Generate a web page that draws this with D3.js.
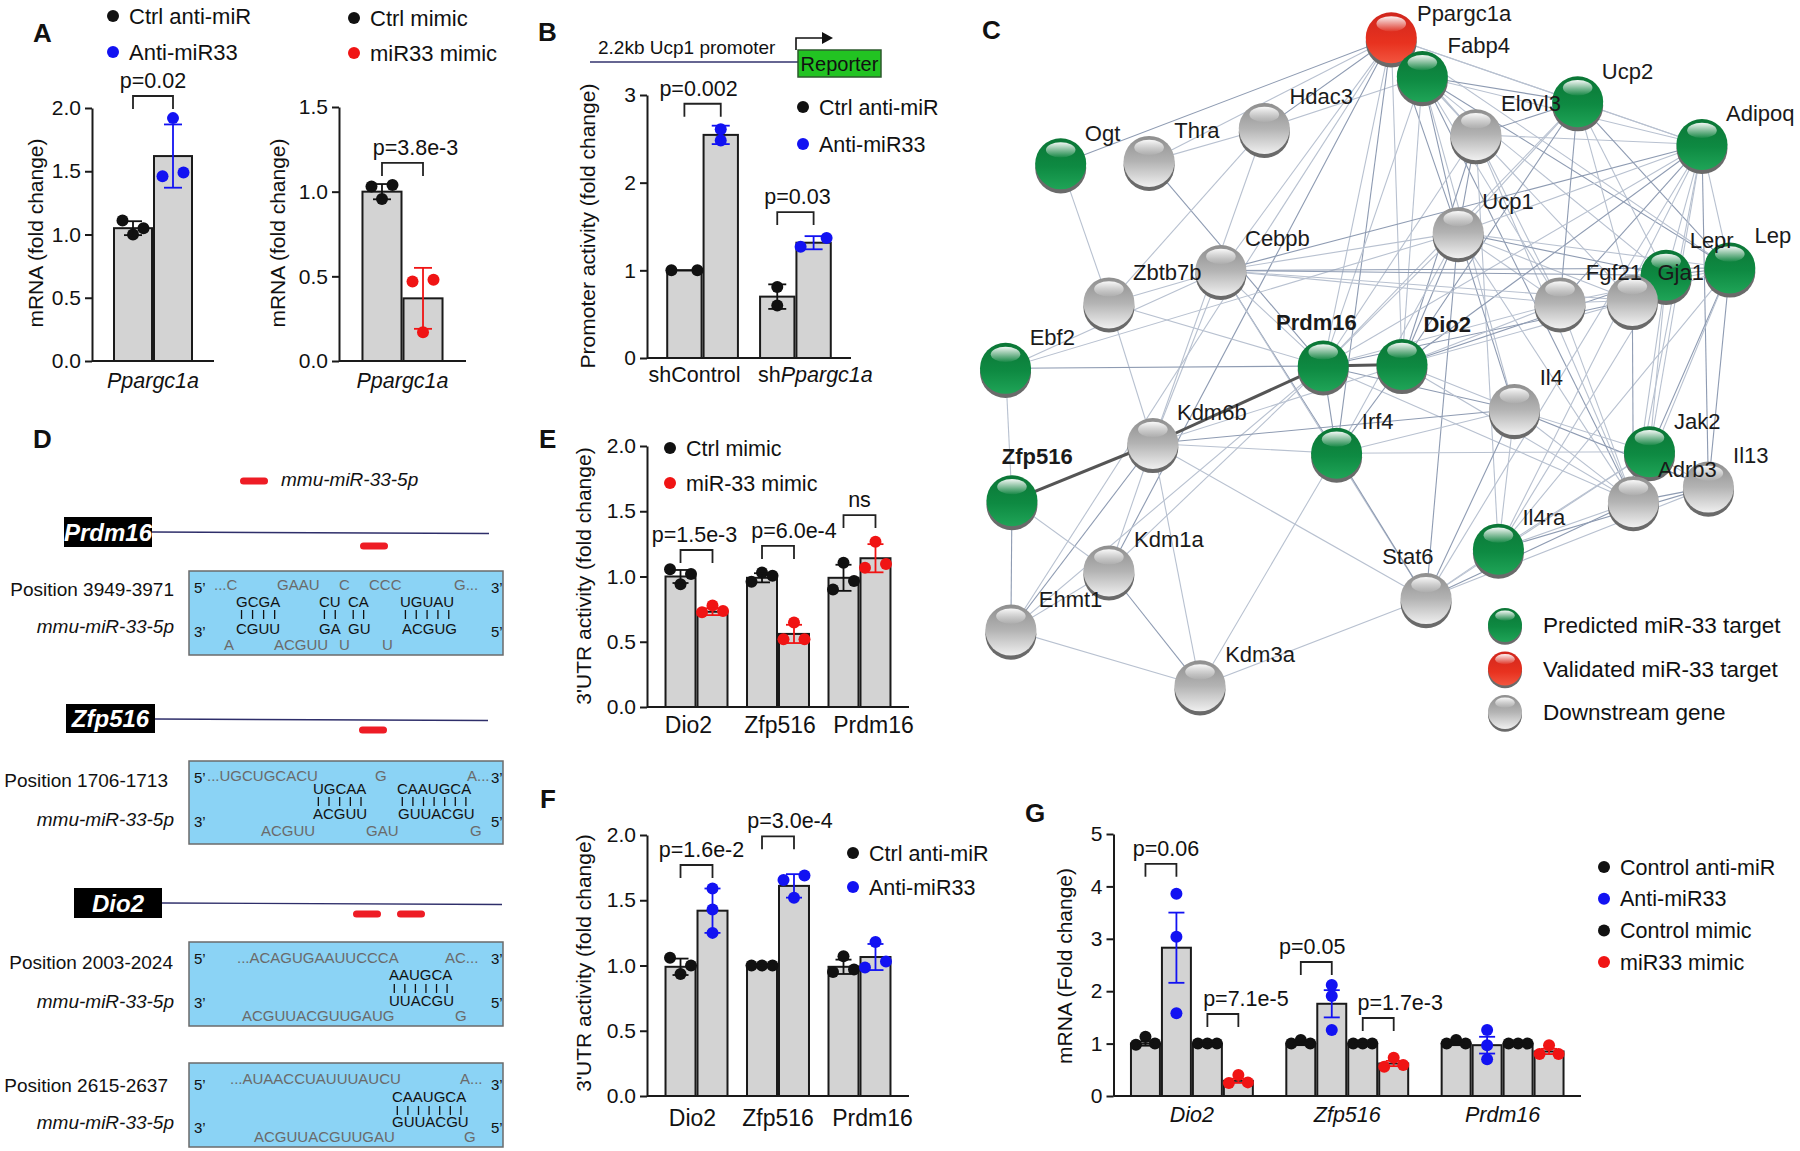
<!DOCTYPE html>
<html><head><meta charset="utf-8">
<script src="https://cdn.jsdelivr.net/npm/d3@7"></script>
<style>body{margin:0;background:#fff}svg{display:block}text{font-family:"Liberation Sans",Arial,Helvetica,sans-serif}</style>
</head><body><svg id="c" width="1800" height="1151"></svg>
<script>
// ================= DATA =================
// Panel A (left): Ctrl anti-miR vs Anti-miR33
const A1_groups=["Ppargc1a"];
const A1_series=["Ctrl anti-miR","Anti-miR33"];
const A1_means=[[1.05],[1.62]];
const A1_errs=[[0.055],[0.25]];
const A1_points=[[[1.11,1.00,1.05]],[[1.46,1.92,1.49]]];
const A1_ticks=[0,0.5,1.0,1.5,2.0];
const A1_pvals=[{label:"p=0.02",group:0,from:0,to:1,level:2.095,dx:0}];
// Panel A (right): Ctrl mimic vs miR33 mimic
const A2_groups=["Ppargc1a"];
const A2_series=["Ctrl mimic","miR33 mimic"];
const A2_means=[[1.0],[0.37]];
const A2_errs=[[0.045],[0.18]];
const A2_points=[[[1.03,0.957,1.04]],[[0.47,0.17,0.48]]];
const A2_ticks=[0,0.5,1.0,1.5];
const A2_pvals=[{label:"p=3.8e-3",group:0,from:0,to:1,level:1.17,dx:13}];
// Panel B
const B_groups=["shControl","shPpargc1a"];
const B_series=["Ctrl anti-miR","Anti-miR33"];
const B_means=[[1.0,0.70],[2.545,1.315]];
const B_errs=[[0,0.14],[0.105,0.075]];
const B_points=[[[1.0,1.0],[0.81,0.60]],[[2.61,2.48],[1.27,1.37]]];
const B_ticks=[0,1,2,3];
const B_pvals=[{label:"p=0.002",group:0,from:0,to:1,level:2.90,dx:-4},{label:"p=0.03",group:1,from:0,to:1,level:1.665,dx:2}];
// Panel E
const E_groups=["Dio2","Zfp516","Prdm16"];
const E_series=["Ctrl mimic","miR-33 mimic"];
const E_means=[[1.0,0.99,0.99],[0.73,0.56,1.14]];
const E_errs=[[0.05,0.035,0.1],[0.026,0.07,0.108]];
const E_points=[[[1.055,0.94,1.02],[0.96,1.03,1.006],[0.90,1.106,0.966]],[[0.726,0.777,0.736],[0.52,0.647,0.52],[1.067,1.266,1.095]]];
const E_ticks=[0,0.5,1.0,1.5,2.0];
const E_pvals=[{label:"p=1.5e-3",group:0,from:0,to:1,level:1.203,dx:-2},{label:"p=6.0e-4",group:1,from:0,to:1,level:1.234,dx:16},{label:"ns",group:2,from:0,to:1,level:1.471,dx:0}];
// Panel F
const F_groups=["Dio2","Zfp516","Prdm16"];
const F_series=["Ctrl anti-miR","Anti-miR33"];
const F_means=[[0.99,1.0,0.99],[1.42,1.61,1.065]];
const F_errs=[[0.063,0,0.055],[0.17,0.09,0.1]];
const F_points=[[[1.06,0.935,1.0],[1.0,1.0,1.0],[0.95,1.07,0.97]],[[1.59,1.43,1.25],[1.655,1.52,1.69],[0.985,1.18,1.03]]];
const F_ticks=[0,0.5,1.0,1.5,2.0];
const F_pvals=[{label:"p=1.6e-2",group:0,from:0,to:1,level:1.77,dx:5},{label:"p=3.0e-4",group:1,from:0,to:1,level:1.99,dx:12}];
// Panel G
const G_groups=["Dio2","Zfp516","Prdm16"];
const G_series=["Control anti-miR","Anti-miR33","Control mimic","miR33 mimic"];
const G_means=[[1.0,1.0,1.0],[2.83,1.76,0.97],[1.0,1.0,1.0],[0.29,0.62,0.85]];
const G_errs=[[0.04,0.03,0.03],[0.67,0.26,0.16],[0,0,0],[0.04,0.05,0.05]];
const G_points=[
  [[0.98,1.13,1.0],[1.0,1.07,1.0],[1.0,1.07,1.0]],
  [[3.86,3.04,1.58],[2.12,1.91,1.26],[1.26,0.97,0.70]],
  [[1.0,1.0,1.0],[1.0,1.0,1.0],[1.0,1.0,1.0]],
  [[0.25,0.40,0.26],[0.56,0.73,0.59],[0.80,0.97,0.80]]];
const G_ticks=[0,1,2,3,4,5];
const G_pvals=[{label:"p=0.06",group:0,from:0,to:1,level:4.43,dx:5},{label:"p=7.1e-5",group:0,from:2,to:3,level:1.565,dx:23},
  {label:"p=0.05",group:1,from:0,to:1,level:2.557,dx:-4},{label:"p=1.7e-3",group:1,from:2,to:3,level:1.489,dx:22}];
// Panel C network
const C_nodes=[
 ["Ppargc1a","validated"],["Fabp4","predicted"],["Ucp2","predicted"],["Elovl3","downstream"],["Hdac3","downstream"],
 ["Adipoq","predicted"],["Thra","downstream"],["Ogt","predicted"],["Ucp1","downstream"],["Cebpb","downstream"],
 ["Zbtb7b","downstream"],["Fgf21","downstream"],["Lepr","predicted"],["Gja1","downstream"],["Lep","predicted"],
 ["Ebf2","predicted"],["Prdm16","predicted"],["Dio2","predicted"],["Il4","downstream"],["Kdm6b","downstream"],
 ["Irf4","predicted"],["Zfp516","predicted"],["Jak2","predicted"],["Adrb3","downstream"],["Il13","downstream"],
 ["Il4ra","predicted"],["Kdm1a","downstream"],["Stat6","downstream"],["Ehmt1","downstream"],["Kdm3a","downstream"]];
const C_bold=["Prdm16","Dio2","Zfp516"];
const C_edges=[
 ["Ogt","Ppargc1a"],["Thra","Ppargc1a"],["Thra","Hdac3"],["Hdac3","Ppargc1a"],["Hdac3","Fabp4"],["Ogt","Zbtb7b"],["Thra","Prdm16"],["Hdac3","Zbtb7b"],["Hdac3","Kdm6b"],
 ["Ppargc1a","Fabp4"],["Ppargc1a","Ucp2"],["Ppargc1a","Elovl3"],["Ppargc1a","Ucp1"],["Ppargc1a","Prdm16"],["Ppargc1a","Dio2"],["Ppargc1a","Irf4"],["Ppargc1a","Adipoq"],["Ppargc1a","Lep"],["Ppargc1a","Kdm1a"],["Ppargc1a","Ehmt1"],["Ppargc1a","Cebpb"],
 ["Fabp4","Ucp2"],["Fabp4","Adipoq"],["Fabp4","Elovl3"],["Fabp4","Ucp1"],["Fabp4","Prdm16"],["Fabp4","Dio2"],["Fabp4","Lep"],["Fabp4","Gja1"],["Fabp4","Fgf21"],["Fabp4","Adrb3"],["Fabp4","Lepr"],["Fabp4","Il4"],
 ["Elovl3","Ucp1"],["Elovl3","Fgf21"],["Elovl3","Adrb3"],["Elovl3","Ucp2"],["Elovl3","Adipoq"],["Elovl3","Prdm16"],["Elovl3","Dio2"],["Elovl3","Il4ra"],
 ["Ucp2","Adipoq"],["Ucp2","Lep"],["Ucp2","Ucp1"],["Ucp2","Gja1"],["Ucp2","Fgf21"],["Ucp2","Prdm16"],["Ucp2","Lepr"],["Ucp2","Dio2"],
 ["Adipoq","Lep"],["Adipoq","Lepr"],["Adipoq","Fgf21"],["Adipoq","Ucp1"],["Adipoq","Jak2"],["Adipoq","Il13"],["Adipoq","Adrb3"],["Adipoq","Prdm16"],["Adipoq","Dio2"],["Adipoq","Il4ra"],["Adipoq","Stat6"],["Adipoq","Cebpb"],
 ["Ucp1","Cebpb"],["Ucp1","Prdm16"],["Ucp1","Dio2"],["Ucp1","Fgf21"],["Ucp1","Gja1"],["Ucp1","Lepr"],["Ucp1","Lep"],["Ucp1","Adrb3"],["Ucp1","Stat6"],["Ucp1","Irf4"],["Ucp1","Ebf2"],["Ucp1","Il4"],
 ["Cebpb","Zbtb7b"],["Cebpb","Prdm16"],["Cebpb","Irf4"],["Cebpb","Fgf21"],["Cebpb","Gja1"],["Cebpb","Lep"],["Cebpb","Kdm6b"],["Cebpb","Stat6"],["Cebpb","Lepr"],
 ["Zbtb7b","Prdm16"],["Zbtb7b","Kdm6b"],["Ebf2","Prdm16"],["Ebf2","Zfp516"],["Ebf2","Cebpb"],
 ["Prdm16","Irf4"],["Prdm16","Kdm1a"],["Prdm16","Ehmt1"],["Prdm16","Il4"],["Prdm16","Fgf21"],["Prdm16","Adrb3"],["Prdm16","Gja1"],
 ["Dio2","Fgf21"],["Dio2","Gja1"],["Dio2","Irf4"],["Dio2","Il4"],["Dio2","Adrb3"],["Dio2","Lepr"],["Dio2","Kdm6b"],
 ["Kdm6b","Irf4"],["Kdm6b","Il4"],["Kdm6b","Stat6"],["Kdm6b","Kdm1a"],["Kdm6b","Ehmt1"],["Kdm6b","Kdm3a"],
 ["Irf4","Il4"],["Irf4","Stat6"],["Irf4","Kdm3a"],["Irf4","Jak2"],["Zfp516","Ehmt1"],["Zfp516","Kdm1a"],
 ["Il4","Il4ra"],["Il4","Stat6"],["Il4","Jak2"],["Il4","Adrb3"],["Il4","Il13"],
 ["Jak2","Stat6"],["Jak2","Il4ra"],["Jak2","Lep"],["Jak2","Lepr"],["Jak2","Il13"],["Jak2","Adrb3"],
 ["Il4ra","Stat6"],["Il4ra","Adrb3"],["Il4ra","Il13"],["Il4ra","Lep"],["Il4ra","Lepr"],
 ["Stat6","Adrb3"],["Stat6","Kdm3a"],["Stat6","Il13"],["Kdm1a","Kdm3a"],["Kdm1a","Ehmt1"],["Ehmt1","Kdm3a"],
 ["Lep","Lepr"],["Lep","Gja1"],["Lepr","Gja1"],["Lep","Il13"],["Lep","Adrb3"],["Lepr","Adrb3"],["Gja1","Adrb3"],["Fgf21","Adrb3"],["Fgf21","Gja1"],["Adrb3","Il13"],["Fgf21","Lep"]];
const C_strong=[["Zfp516","Kdm6b"],["Kdm6b","Prdm16"],["Prdm16","Dio2"]];
const C_legend=[["predicted","Predicted miR-33 target"],["validated","Validated miR-33 target"],["downstream","Downstream gene"]];

// ================= LAYOUT =================
const FONT='"Liberation Sans",Arial,Helvetica,sans-serif';
const BLACK="#111", BLUE="#1212f2", RED="#f01414";
const svg=d3.select("#c");
svg.append("rect").attr("width",1800).attr("height",1151).attr("fill","#fff");

function txt(g,x,y,s,o={}){
  const t=g.append("text").attr("x",x).attr("y",y).text(s)
    .attr("font-size",o.size||21).attr("fill",o.fill||"#111").attr("font-family",FONT);
  if(o.anchor) t.attr("text-anchor",o.anchor);
  if(o.weight) t.attr("font-weight",o.weight);
  if(o.italic) t.attr("font-style","italic");
  return t;
}
function legend(items,x,y0,dy,size){
  items.forEach((it,i)=>{
    svg.append("circle").attr("cx",x).attr("cy",y0+i*dy).attr("r",6).attr("fill",it[1]);
    txt(svg,x+16,y0+i*dy+7.5,it[0],{size:size||21.5});
  });
}

function barChart(o){
  const g=svg.append("g");
  const y=d3.scaleLinear().domain([o.ticks[0],o.ticks[o.ticks.length-1]]).range([o.yBottom,o.yTop]);
  const x0=d3.scaleBand().domain(o.groups).range([o.axisX,o.xEnd]).paddingInner(o.pi).paddingOuter(o.po);
  const x1=d3.scaleBand().domain(d3.range(o.series.length)).range([0,x0.bandwidth()]);
  const cx=(gi,si)=>x0(o.groups[gi])+x1(si)+x1.bandwidth()/2;
  const r=6;
  o.series.forEach((s,si)=>o.groups.forEach((gr,gi)=>{
    const v=o.means[si][gi];
    g.append("rect").attr("x",x0(gr)+x1(si)+1).attr("width",x1.bandwidth()-2)
     .attr("y",y(v)).attr("height",y(0)-y(v)).attr("fill","#d3d3d3").attr("stroke","#1a1a1a").attr("stroke-width",2);
  }));
  o.series.forEach((s,si)=>o.groups.forEach((gr,gi)=>{
    const pts=o.points[si][gi], ys=pts.map(y);
    let overlap=false;
    for(let i=0;i<ys.length;i++)for(let j=i+1;j<ys.length;j++) if(Math.abs(ys[i]-ys[j])<2*r-1) overlap=true;
    const step=pts.length===2?26:(o.step||10.5);
    pts.forEach((p,i)=>{
      const off=overlap?(i-(pts.length-1)/2)*step:0;
      g.append("circle").attr("cx",cx(gi,si)+off).attr("cy",y(p)).attr("r",r).attr("fill",o.colors[si]);
    });
  }));
  const cw=o.capW||8;
  o.series.forEach((s,si)=>o.groups.forEach((gr,gi)=>{
    const m=o.means[si][gi], e=o.errs[si][gi], x=cx(gi,si), col=o.colors[si];
    const ln=(x1_,y1_,x2_,y2_)=>g.append("line").attr("x1",x1_).attr("y1",y1_).attr("x2",x2_).attr("y2",y2_).attr("stroke",col).attr("stroke-width",1.8);
    if(e>0){ ln(x,y(m-e),x,y(m+e)); ln(x-cw,y(m+e),x+cw,y(m+e)); ln(x-cw,y(m-e),x+cw,y(m-e)); }
    else ln(x-cw,y(m),x+cw,y(m));
  }));
  const ax=g.append("g").attr("transform",`translate(${o.axisX},0)`)
    .call(d3.axisLeft(y).tickValues(o.ticks).tickFormat(o.fmt).tickSize(7).tickSizeOuter(0).tickPadding(4));
  ax.attr("font-size",o.tickFont||21).attr("font-family",FONT);
  ax.select(".domain").attr("stroke","#1a1a1a").attr("stroke-width",2);
  ax.selectAll(".tick line").attr("stroke","#1a1a1a").attr("stroke-width",2);
  ax.selectAll(".tick text").attr("fill","#111");
  g.append("line").attr("x1",o.axisX).attr("x2",o.xEnd).attr("y1",y(0)).attr("y2",y(0)).attr("stroke","#1a1a1a").attr("stroke-width",2);
  // x labels
  o.groups.forEach((gr,gi)=>{
    const dx=o.xDx?o.xDx[gi]:0;
    const t=g.append("text").attr("x",x0(gr)+x0.bandwidth()/2+dx).attr("y",o.xLabelY).attr("text-anchor","middle")
      .attr("font-size",o.xFont||21.5).attr("font-family",FONT).attr("fill","#111");
    const parts=o.xParts?o.xParts[gi]:[[gr,o.italic]];
    parts.forEach(p=>t.append("tspan").text(p[0]).attr("font-style",p[1]?"italic":"normal"));
  });
  // y label
  g.append("text").attr("transform",`translate(${o.yLabelX},${o.yLabelY}) rotate(-90)`).attr("dy","0.36em")
   .attr("text-anchor","middle").attr("font-size",o.yFont||21).attr("font-family",FONT).attr("fill","#111").text(o.yLabel);
  // p-values
  o.pvals.forEach(p=>{
    const xa=cx(p.group,p.from), xb=cx(p.group,p.to), top=y(p.level);
    g.append("path").attr("d",`M${xa},${top+13}V${top}H${xb}V${top+13}`).attr("fill","none").attr("stroke","#222").attr("stroke-width",1.8);
    txt(g,(xa+xb)/2+p.dx,top-8,p.label,{size:21.5,anchor:"middle"});
  });
  return {x0,x1,y};
}

// Panel letters
[["A",33,42],["B",538,41],["C",982,39],["D",33,448],["E",539,448],["F",540,808],["G",1025,822]]
 .forEach(l=>txt(svg,l[1],l[2],l[0],{size:26,weight:"bold"}));

// ---- Panel A
const f1=d3.format(".1f");
barChart({groups:A1_groups,series:A1_series,means:A1_means,errs:A1_errs,points:A1_points,ticks:A1_ticks,fmt:f1,
  colors:[BLACK,BLUE],axisX:92,xEnd:214,yBottom:361,yTop:108,pi:0,po:0.2625,italic:true,xLabelY:388,
  yLabel:"mRNA (fold change)",yLabelX:35,yLabelY:233,pvals:A1_pvals,capW:9});
barChart({groups:A2_groups,series:A2_series,means:A2_means,errs:A2_errs,points:A2_points,ticks:A2_ticks,fmt:f1,
  colors:[BLACK,RED],axisX:339,xEnd:466,yBottom:361,yTop:107,pi:0,po:0.274,italic:true,xLabelY:388,
  yLabel:"mRNA (fold change)",yLabelX:277,yLabelY:233,pvals:A2_pvals,capW:9});
legend([[A1_series[0],BLACK],[A1_series[1],BLUE]],113,16,36,22);
legend([[A2_series[0],BLACK],[A2_series[1],RED]],354,18,35,22);

// ---- Panel B
barChart({groups:B_groups,series:B_series,means:B_means,errs:B_errs,points:B_points,ticks:B_ticks,fmt:d3.format("d"),
  colors:[BLACK,BLUE],axisX:647,xEnd:851,yBottom:358,yTop:95,pi:0.217,po:0.207,xLabelY:382,xDx:[-8,20],
  xParts:[[["shControl",false]],[["sh",false],["Ppargc1a",true]]],
  yLabel:"Promoter activity (fold change)",yLabelX:587,yLabelY:226,pvals:B_pvals,capW:9});
legend([[B_series[0],BLACK],[B_series[1],BLUE]],803,107,37,21.5);
svg.append("line").attr("x1",590).attr("x2",798).attr("y1",62).attr("y2",62).attr("stroke","#33336e").attr("stroke-width",1.5);
txt(svg,598,54,"2.2kb Ucp1 promoter",{size:19});
svg.append("rect").attr("x",798).attr("y",50).attr("width",83).attr("height",27).attr("fill","#22c322").attr("stroke","#2e5a2e").attr("stroke-width",1.5);
txt(svg,839.5,71,"Reporter",{size:20,anchor:"middle"});
svg.append("path").attr("d","M796,50V38H823").attr("fill","none").attr("stroke","#111").attr("stroke-width",1.6);
svg.append("path").attr("d","M822,32L833,38L822,44Z").attr("fill","#111");

// ---- Panel E
barChart({groups:E_groups,series:E_series,means:E_means,errs:E_errs,points:E_points,ticks:E_ticks,fmt:f1,
  colors:[BLACK,RED],axisX:647,xEnd:909,yBottom:707,yTop:446,pi:0.215,po:0.215,xLabelY:733,xFont:23,xDx:[-8,2,14],
  yLabel:"3'UTR activity (fold change)",yLabelX:583,yLabelY:576,pvals:E_pvals,capW:8});
legend([[E_series[0],BLACK],[E_series[1],RED]],670,448,35,21.5);

// ---- Panel F
barChart({groups:F_groups,series:F_series,means:F_means,errs:F_errs,points:F_points,ticks:F_ticks,fmt:f1,
  colors:[BLACK,BLUE],axisX:647,xEnd:909,yBottom:1096,yTop:835,pi:0.215,po:0.215,xLabelY:1126,xFont:23,xDx:[-4,0,13],
  yLabel:"3'UTR activity (fold change)",yLabelX:583,yLabelY:963,pvals:F_pvals,capW:8});
legend([[F_series[0],BLACK],[F_series[1],BLUE]],853,853,34,21.5);

// ---- Panel G
barChart({groups:G_groups,series:G_series,means:G_means,errs:G_errs,points:G_points,ticks:G_ticks,fmt:d3.format("d"),
  colors:[BLACK,BLUE,BLACK,RED],axisX:1113.5,xEnd:1581,yBottom:1096,yTop:834,pi:0.2026,po:0.106,italic:true,xLabelY:1122,
  yLabel:"mRNA (Fold change)",yLabelX:1064,yLabelY:966,pvals:G_pvals,capW:8,step:9.5});
legend(G_series.map((s,i)=>[s,[BLACK,BLUE,BLACK,RED][i]]),1604,867,31.7,21.5);

// ---- Panel C network
const netX=d3.scaleLinear().domain([0,1568]).range([960,1800]);
const netY=d3.scaleLinear().domain([0,1568]).range([0,760]);
const C_pos={Ppargc1a:[805,78,853,44],Fabp4:[863,158,910,110],Ucp2:[1153,210,1198,162],Elovl3:[963,278,1010,228],
 Hdac3:[568,265,615,215],Adipoq:[1385,298,1430,250],Thra:[353,333,400,285],Ogt:[188,338,233,290],Ucp1:[930,480,975,432],
 Cebpb:[487,558,532,508],Zbtb7b:[278,625,323,578],Fgf21:[1120,625,1168,578],Lepr:[1318,568,1362,512],Gja1:[1255,620,1302,578],
 Lep:[1437,553,1483,502],Ebf2:[85,760,130,712],Prdm16:[678,755,590,680],Dio2:[825,752,865,685],Il4:[1035,845,1082,795],
 Kdm6b:[360,915,405,867],Irf4:[703,935,750,885],Zfp516:[97,1033,78,958],Jak2:[1287,932,1333,885],Adrb3:[1257,1035,1303,985],
 Il13:[1397,1005,1443,955],Il4ra:[1005,1133,1050,1083],Kdm1a:[278,1178,325,1128],Stat6:[870,1235,788,1163],
 Ehmt1:[95,1300,147,1253],Kdm3a:[448,1415,495,1365]};
const defs=svg.append("defs");
const grads={predicted:[["0","#0b7636"],["0.55","#0e8a42"],["1","#1fa457"]],
  validated:[["0","#d0261d"],["0.6","#e8321f"],["1","#f2553f"]],
  downstream:[["0","#8e8e8e"],["0.5","#b3b3b3"],["1","#efefef"]]};
Object.entries(grads).forEach(([k,st])=>{
  const lg=defs.append("linearGradient").attr("id","g_"+k).attr("x1",0).attr("y1",0).attr("x2",0).attr("y2",1);
  st.forEach(s=>lg.append("stop").attr("offset",s[0]).attr("stop-color",s[1]));
});
const hl=defs.append("linearGradient").attr("id","hl").attr("x1",0).attr("y1",0).attr("x2",0).attr("y2",1);
hl.append("stop").attr("offset","0").attr("stop-color","#fff").attr("stop-opacity",0.95);
hl.append("stop").attr("offset","1").attr("stop-color","#fff").attr("stop-opacity",0.05);
const np=n=>[netX(C_pos[n][0]),netY(C_pos[n][1])];
const ge=svg.append("g");
C_edges.forEach((e,i)=>{
  const a=np(e[0]),b=np(e[1]);
  ge.append("line").attr("x1",a[0]).attr("y1",a[1]).attr("x2",b[0]).attr("y2",b[1])
    .attr("stroke",i%3===0?"#8e9bb2":"#b8c1d0").attr("stroke-width",1.1);
});
C_strong.forEach(e=>{
  const a=np(e[0]),b=np(e[1]);
  ge.append("line").attr("x1",a[0]).attr("y1",a[1]).attr("x2",b[0]).attr("y2",b[1]).attr("stroke","#555").attr("stroke-width",3);
});
function ball(g,x,y,r,type){
  g.append("circle").attr("cx",x).attr("cy",y+r*0.16).attr("r",r).attr("fill","#6a6a6a");
  g.append("circle").attr("cx",x).attr("cy",y).attr("r",r).attr("fill",`url(#g_${type})`);
  g.append("ellipse").attr("cx",x).attr("cy",y-r*0.55).attr("rx",r*0.58).attr("ry",r*0.3).attr("fill","url(#hl)");
}
const gn=svg.append("g");
C_nodes.forEach(n=>{const p=np(n[0]); ball(gn,p[0],p[1],25.5,n[1]);});
C_nodes.forEach(n=>{
  const l=C_pos[n[0]];
  txt(svg,netX(l[2]),netY(l[3]),n[0],{size:22,weight:C_bold.includes(n[0])?"bold":null,fill:"#1a1a1a"});
});
C_legend.forEach((l,i)=>{
  ball(svg,1505,625+i*43.5,17,l[0]);
  txt(svg,1543,633+i*43.5,l[1],{size:22.5});
});

// ---- Panel D
txt(svg,281,486,"mmu-miR-33-5p",{size:19,italic:true});
svg.append("rect").attr("x",240).attr("y",477.5).attr("width",28).attr("height",7).attr("rx",3.5).attr("fill","#ee1c25");
const D_tracks=[{gene:"Prdm16",box:[64,517,88,30],lineEnd:489,lineY:532,dashes:[[360,388]],dashY:546},
 {gene:"Zfp516",box:[66,704,89,29],lineEnd:488,lineY:719,dashes:[[359,387]],dashY:730},
 {gene:"Dio2",box:[74,888,88,30],lineEnd:502,lineY:903,dashes:[[353,381],[397,425]],dashY:914}];
D_tracks.forEach(t=>{
  const [bx,by,bw,bh]=t.box;
  svg.append("line").attr("x1",bx+bw).attr("x2",t.lineEnd).attr("y1",t.lineY).attr("y2",t.lineY+1.5).attr("stroke","#2e2e6a").attr("stroke-width",1.4);
  svg.append("rect").attr("x",bx).attr("y",by).attr("width",bw).attr("height",bh).attr("fill","#000");
  txt(svg,bx+bw/2,by+bh/2+8.5,t.gene,{size:24,weight:"bold",italic:true,fill:"#fff",anchor:"middle"});
  t.dashes.forEach(d=>svg.append("rect").attr("x",d[0]).attr("y",t.dashY-3.5).attr("width",d[1]-d[0]).attr("height",7).attr("rx",3.5).attr("fill","#ee1c25"));
});
const D_sites=[
 {top:571,bottom:655,pos:"Position 3949-3971",posX:174,posY:596,mmuY:633,m1:593,m2:637,pipe:[610,619],
  u:[["...C",214,590],["GAAU",277,590],["C",339,590],["CCC",369,590],["G...",454,590],["A",224,650],["ACGUU",274,650],["U",339,650],["U",382,650]],
  pt:[["GCGA",236,607],["CU",319,607],["CA",348,607],["UGUAU",400,607]],
  pb:[["CGUU",236,634],["GA",319,634],["GU",348,634],["ACGUG",402,634]]},
 {top:761,bottom:844,pos:"Position 1706-1713",posX:168,posY:787,mmuY:826,m1:783,m2:827,pipe:[797,806],
  u:[["...UGCUGCACU",207,781],["G",375,781],["A...",467,781],["ACGUU",261,836],["GAU",366,836],["G",470,836]],
  pt:[["UGCAA",313,794],["CAAUGCA",397,794]],
  pb:[["ACGUU",313,819],["GUUACGU",398,819]]},
 {top:942,bottom:1026,pos:"Position 2003-2024",posX:173,posY:969,mmuY:1008,m1:964,m2:1008,pipe:[984,993],
  u:[["...ACAGUGAAUUCCCA",237,963],["AC...",445,963],["ACGUUACGUUGAUG",242,1021],["G",455,1021]],
  pt:[["AAUGCA",389,980]],pb:[["UUACGU",389,1006]]},
 {top:1063,bottom:1147,pos:"Position 2615-2637",posX:168,posY:1092,mmuY:1129,m1:1090,m2:1133,pipe:[1106,1115],
  u:[["...AUAACCUAUUUAUCU",230,1084],["A...",460,1084],["ACGUUACGUUGAU",254,1142],["G",464,1142]],
  pt:[["CAAUGCA",392,1102]],pb:[["GUUACGU",392,1127]]}];
D_sites.forEach(s=>{
  svg.append("rect").attr("x",189).attr("y",s.top).attr("width",314).attr("height",s.bottom-s.top).attr("fill","#8bd3f5").attr("stroke","#6b6b6b").attr("stroke-width",1.5);
  txt(svg,s.posX,s.posY,s.pos,{size:19,anchor:"end"});
  txt(svg,174,s.mmuY,"mmu-miR-33-5p",{size:19,italic:true,anchor:"end"});
  txt(svg,194,s.m1,"5\u2019",{size:15}); txt(svg,491,s.m1,"3\u2019",{size:15});
  txt(svg,194,s.m2,"3\u2019",{size:15}); txt(svg,491,s.m2,"5\u2019",{size:15});
  s.u.forEach(u=>txt(svg,u[1],u[2],u[0],{size:15,fill:"#6a6a6a"}));
  s.pb.forEach(u=>txt(svg,u[1],u[2],u[0],{size:15,fill:"#111"}));
  s.pt.forEach(u=>{
    const t=txt(svg,u[1],u[2],u[0],{size:15,fill:"#111"});
    const w=t.node().getComputedTextLength(), n=u[0].length;
    for(let i=0;i<n;i++){
      const x=u[1]+(i+0.5)*w/n;
      svg.append("line").attr("x1",x).attr("x2",x).attr("y1",s.pipe[0]).attr("y2",s.pipe[1]).attr("stroke","#111").attr("stroke-width",1.3);
    }
  });
});
</script></body></html>
